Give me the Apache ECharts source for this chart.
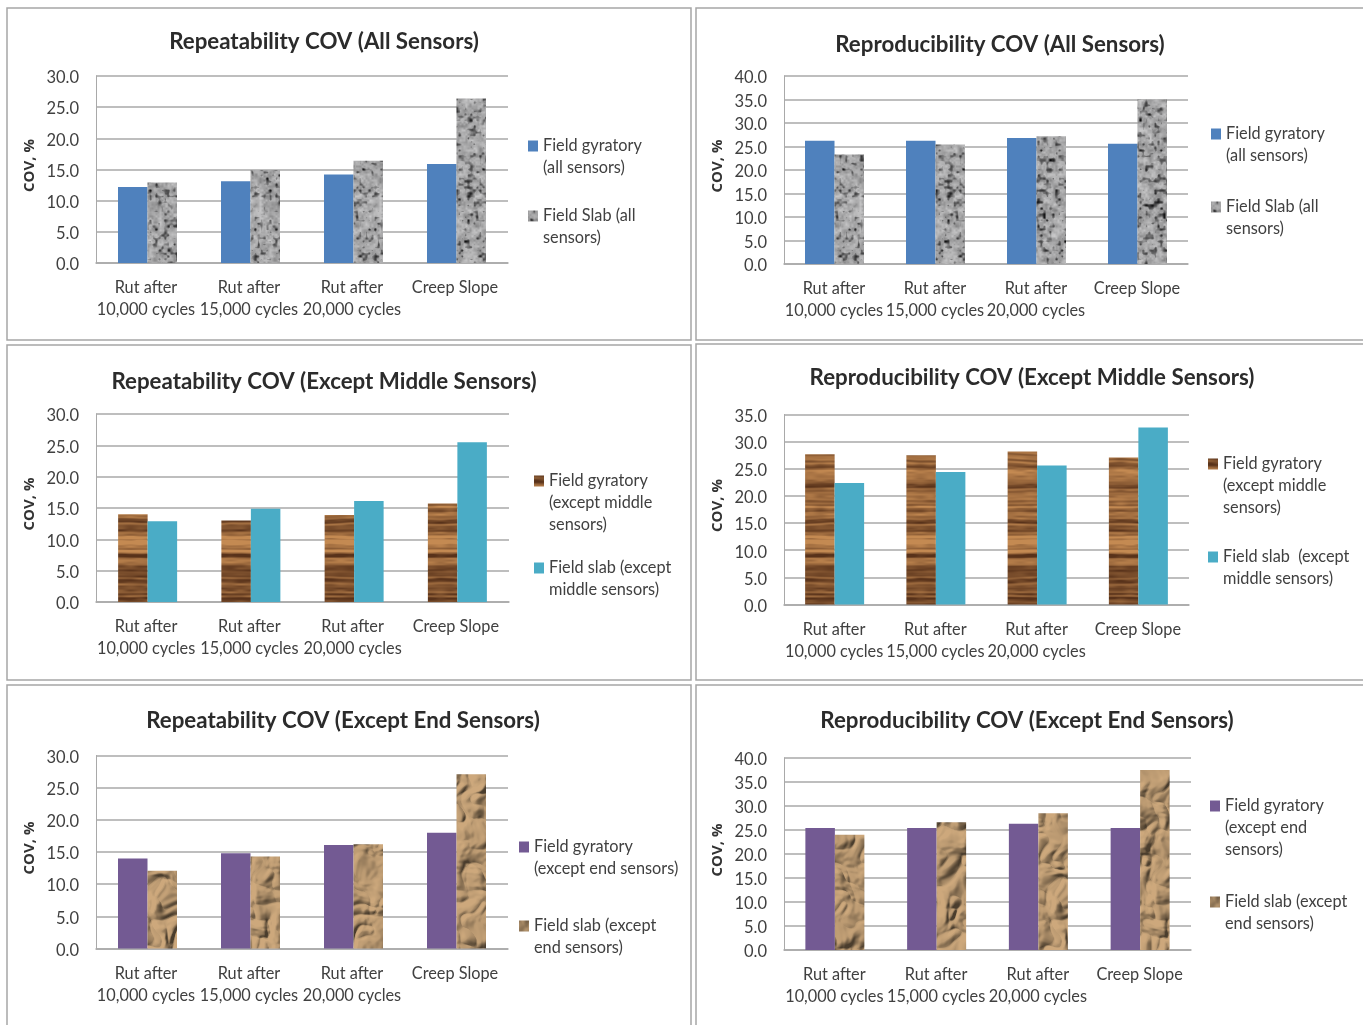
<!DOCTYPE html>
<html>
<head>
<meta charset="utf-8">
<style>html,body{margin:0;padding:0;background:#fff}#c{width:1363px;height:1025px}</style>
<script src="https://cdn.jsdelivr.net/npm/echarts@6/dist/echarts.min.js"></script>
</head>
<body>
<div id="c"></div>
<script>
// ---------- data ----------
const categories = ['Rut after\n10,000 cycles', 'Rut after\n15,000 cycles', 'Rut after\n20,000 cycles', 'Creep Slope'];
const repAllGyratory = [12.2, 13.1, 14.2, 15.9];
const repAllSlab = [12.9, 14.9, 16.4, 26.4];
const rprAllGyratory = [26.2, 26.2, 26.8, 25.6];
const rprAllSlab = [23.3, 25.4, 27.2, 35.0];
const repMidGyratory = [14.0, 13.0, 13.9, 15.7];
const repMidSlab = [12.9, 14.9, 16.1, 25.5];
const rprMidGyratory = [27.7, 27.5, 28.2, 27.1];
const rprMidSlab = [22.4, 24.4, 25.6, 32.6];
const repEndGyratory = [14.0, 14.8, 16.1, 18.0];
const repEndSlab = [12.1, 14.3, 16.2, 27.1];
const rprEndGyratory = [25.4, 25.4, 26.3, 25.4];
const rprEndSlab = [24.0, 26.6, 28.5, 37.5];

// ---------- procedural fill textures (decoration only, not data) ----------
function hash2(x, y, s) {
  let h = (x * 374761393 + y * 668265263 + s * 2147483647) | 0;
  h = Math.imul(h ^ (h >>> 13), 1274126177);
  h = Math.imul(h ^ (h >>> 16), 1103515245);
  return ((h ^ (h >>> 15)) >>> 0) / 4294967295;
}
function vnoise(x, y, cx, cy, pw, ph, s) {
  const nx = Math.round(pw / cx), ny = Math.round(ph / cy);
  const fx = x / cx, fy = y / cy;
  const ix = Math.floor(fx), iy = Math.floor(fy);
  let tx = fx - ix, ty = fy - iy;
  tx = tx * tx * (3 - 2 * tx); ty = ty * ty * (3 - 2 * ty);
  const g = (a, b) => hash2(((a % nx) + nx) % nx, ((b % ny) + ny) % ny, s);
  const a = g(ix, iy) + (g(ix + 1, iy) - g(ix, iy)) * tx;
  const b = g(ix, iy + 1) + (g(ix + 1, iy + 1) - g(ix, iy + 1)) * tx;
  return a + (b - a) * ty;
}
function tile(w, h, fn) {
  const cv = document.createElement('canvas');
  cv.width = w; cv.height = h;
  const ctx = cv.getContext('2d');
  const im = ctx.createImageData(w, h);
  for (let y = 0; y < h; y++) for (let x = 0; x < w; x++) {
    const c = fn(x, y), i = (y * w + x) * 4;
    im.data[i] = c[0]; im.data[i + 1] = c[1]; im.data[i + 2] = c[2]; im.data[i + 3] = 255;
  }
  ctx.putImageData(im, 0, 0);
  return cv;
}
const granite = tile(120, 160, (x, y) => {
  const a = vnoise(x, y, 3, 3, 120, 160, 1), b = vnoise(x, y, 5, 5, 120, 160, 2), c = vnoise(x, y, 2, 2, 120, 160, 3);
  let v = 166 + (b - 0.5) * 44 + (c - 0.5) * 30;
  const d = a * 0.7 + b * 0.3;
  if (d < 0.42) v -= (0.42 - d) * 340;
  return [v, v, v + 1];
});
const wood = tile(120, 200, (x, y) => {
  const yy = y + (vnoise(x, y, 40, 20, 120, 200, 4) - 0.5) * 3;
  const a = vnoise(0, yy, 10, 2, 10, 200, 5), b = vnoise(0, yy, 10, 5, 10, 200, 6), c = vnoise(0, yy, 10, 20, 10, 200, 7);
  const f = vnoise(x, y, 10, 2, 120, 200, 8);
  let t = a * 0.35 + b * 0.3 + c * 0.2 + f * 0.15;
  t = Math.max(0, Math.min(1, (t - 0.22) / 0.5));
  return [88 + t * 108, 50 + t * 88, 26 + t * 56];
});
const paper = tile(180, 240, (x, y) => {
  const h = (px, py) => {
    const wx = px + (vnoise(px, py, 20, 20, 180, 240, 9) - 0.5) * 14;
    const wy = py + (vnoise(px, py, 20, 20, 180, 240, 10) - 0.5) * 14;
    return Math.abs(vnoise(wx, wy, 20, 30, 180, 240, 11) - 0.5) * 16 +
           Math.abs(vnoise(wx, wy, 10, 12, 180, 240, 12) - 0.5) * 8 +
           vnoise(wx, wy, 4, 4, 180, 240, 13) * 1.2;
  };
  const s = h(x + 1, y + 1) - h(x - 1, y - 1);
  const t = Math.max(-1, Math.min(0.5, s * 0.36 - 0.05));
  const m = t >= 0 ? 1 + t * 0.2 : 1 + t * 0.6;
  return [Math.min(255, 186 * m), Math.min(255, 153 * m), Math.min(255, 113 * m)];
});
const fillGranite = { image: granite, repeat: 'repeat' };
const fillWood = { image: wood, repeat: 'repeat' };
const fillPaper = { image: paper, repeat: 'repeat' };
const BLUE = '#4f81bd', TEAL = '#4aacc6', PURPLE = '#735a93';

// ---------- panels ----------
const panels = [
  { title: 'Repeatability COV (All Sensors)', tx: 324, ty: 40, g: [96, 76, 412, 187], max: 30,
    s: [['Field gyratory\n(all sensors)', repAllGyratory, BLUE, 528, 146], ['Field Slab (all\nsensors)', repAllSlab, fillGranite, 528, 216]] },
  { title: 'Reproducibility COV (All Sensors)', tx: 1000, ty: 43, g: [784, 76, 404, 188], max: 40,
    s: [['Field gyratory\n(all sensors)', rprAllGyratory, BLUE, 1211, 134], ['Field Slab (all\nsensors)', rprAllSlab, fillGranite, 1211, 207]] },
  { title: 'Repeatability COV (Except Middle Sensors)', tx: 324, ty: 380, g: [96, 414, 413, 188], max: 30,
    s: [['Field gyratory\n(except middle\nsensors)', repMidGyratory, fillWood, 534, 481], ['Field slab (except\nmiddle sensors)', repMidSlab, TEAL, 534, 568]] },
  { title: 'Reproducibility COV (Except Middle Sensors)', tx: 1032, ty: 376, g: [784, 414.5, 405, 190], max: 35,
    s: [['Field gyratory\n(except middle\nsensors)', rprMidGyratory, fillWood, 1208, 464], ['Field slab  (except\nmiddle sensors)', rprMidSlab, TEAL, 1208, 557]] },
  { title: 'Repeatability COV (Except End Sensors)', tx: 343, ty: 719, g: [96, 755.5, 412, 193], max: 30,
    s: [['Field gyratory\n(except end sensors)', repEndGyratory, PURPLE, 519, 847], ['Field slab (except\nend sensors)', repEndSlab, fillPaper, 519, 926]] },
  { title: 'Reproducibility COV (Except End Sensors)', tx: 1027, ty: 719, g: [784, 758, 407, 192], max: 40,
    s: [['Field gyratory\n(except end\nsensors)', rprEndGyratory, PURPLE, 1210, 806], ['Field slab (except\nend sensors)', rprEndSlab, fillPaper, 1210, 902]] }
];
const frames = [
  [7, 8, 684, 332], [696, 8, 680, 332],
  [7, 345, 684, 335], [696, 344, 680, 336],
  [7, 685, 684, 350], [696, 685, 680, 350]
];

const FONT = 'Lato, Carlito, sans-serif';
const TXT = '#404040', LINE = '#a9a9a9';
const LH = 22;
const option = { animation: false, backgroundColor: '#fff', title: [], grid: [], xAxis: [], yAxis: [], series: [], legend: [],
  graphic: frames.map(f => ({ type: 'rect', silent: true, z: -10,
    shape: { x: f[0], y: f[1], width: f[2], height: f[3] },
    style: { fill: '#fff', stroke: '#a6a6a6', lineWidth: 1.5 } })) };

panels.forEach((p, i) => {
  option.title.push({ text: p.title, left: p.tx, top: p.ty - 13, textAlign: 'center', padding: 0,
    textStyle: { fontFamily: FONT, fontWeight: 'bold', fontSize: 22.3, color: '#2b2b2b', lineHeight: 30 } });
  option.grid.push({ left: p.g[0], top: p.g[1], width: p.g[2], height: p.g[3] });
  option.xAxis.push({ type: 'category', gridIndex: i, data: categories,
    axisLine: { lineStyle: { color: LINE, width: 1.5 } }, axisTick: { show: false },
    axisLabel: { interval: 0, margin: 14, fontFamily: FONT, fontSize: 16.3, lineHeight: 22, color: TXT,
      padding: [0, i % 2 === 0 ? 3 : 1, 0, 0] } });
  option.yAxis.push({ type: 'value', gridIndex: i, min: 0, max: p.max, interval: 5,
    name: 'COV, %', nameLocation: 'middle', nameGap: 59, nameRotate: 90,
    nameTextStyle: { fontFamily: 'Open Sans', fontWeight: 'bold', fontSize: 15, color: '#333', padding: [0, 0, 0, 8] },
    axisLine: { show: true, lineStyle: { color: LINE, width: 1 } }, axisTick: { show: false },
    splitLine: { lineStyle: { color: LINE, width: 1.5 } },
    axisLabel: { margin: 17, color: TXT, formatter: v => '{t|' + v.toFixed(1) + '}',
      rich: { t: { fontFamily: FONT, fontSize: 16.5, color: TXT, padding: [4, 0, 0, 0] } } } });
  p.s.forEach(s => {
    const lines = s[0].split('\n').length;
    option.series.push({ type: 'bar', name: s[0], xAxisIndex: i, yAxisIndex: i, data: s[1], barWidth: 29.5, barGap: 0,
      itemStyle: { color: s[2] }, silent: true });
    option.legend.push({ orient: 'vertical', left: s[3], top: s[4] - LH / 2 - (lines - 1) * LH, padding: 0, selectedMode: false,
      itemWidth: 10, itemHeight: 11, itemGap: 0,
      formatter: name => '\n'.repeat(lines - 1) + name,
      data: [{ name: s[0], icon: 'rect', itemStyle: { color: s[2] } }],
      textStyle: { fontFamily: FONT, fontSize: 16.3, color: TXT, lineHeight: LH } });
  });
});

const chart = echarts.init(document.getElementById('c'), null, { renderer: 'canvas' });
chart.setOption(option);
</script>
</body>
</html>
